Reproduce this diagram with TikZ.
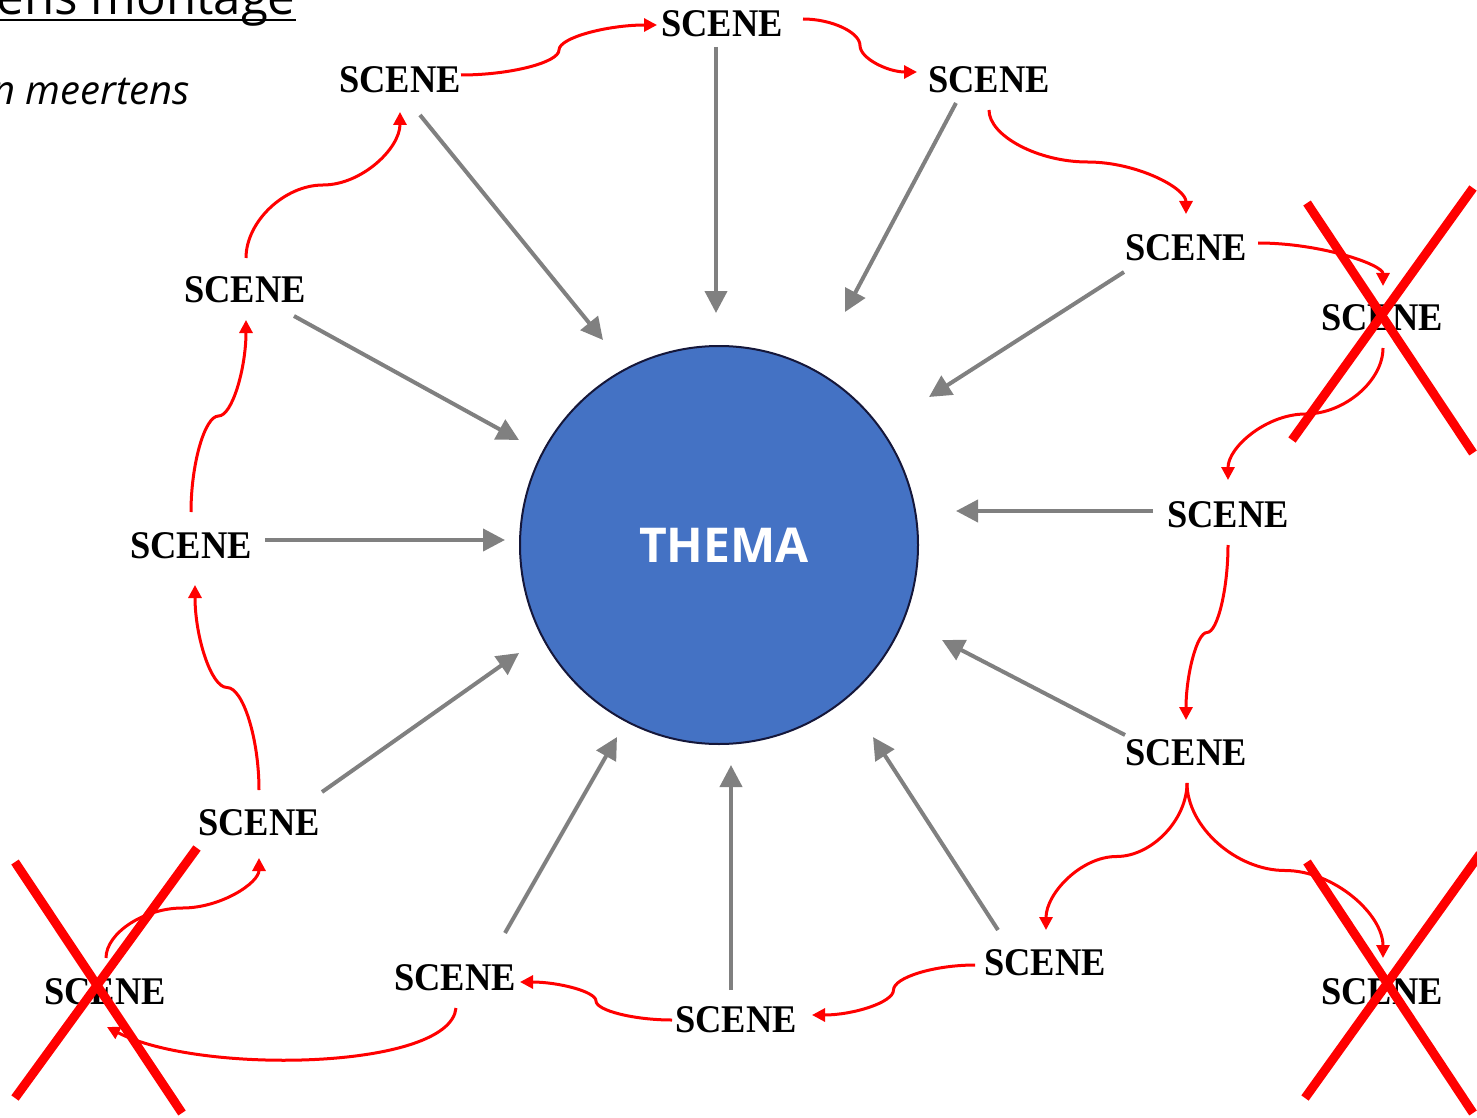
\documentclass[tikz,border=0pt]{standalone}
\usepackage{fontspec}
\setmainfont{Liberation Serif}
\newfontfamily\osans{Open Sans}
\usetikzlibrary{arrows.meta,calc}
\definecolor{themablue}{HTML}{4472C4}
\definecolor{arrgray}{HTML}{808080}
\definecolor{xred}{HTML}{FF0000}
\definecolor{rimblue}{HTML}{15173A}
\newcommand\scn{\scalebox{0.93}[1]{SCENE}}
\tikzset{
  scene/.style={inner sep=0pt, font=\fontsize{19.6}{20}\selectfont\bfseries},
  grayarr/.style={draw=arrgray, line width=2pt, -{Triangle[length=11pt,width=11pt]}},
  redarr/.style={draw=xred, line width=1.5pt, -{Triangle[length=6.5pt,width=6.5pt]}},
  crossline/.style={draw=xred, line width=4.5pt},
}
% S-curve: horizontal start, vertical middle, horizontal end
\newcommand\hhS[2]{\draw[redarr] let \p1=(#1), \p2=(#2) in (\p1)
  .. controls ({0.75*\x1+0.25*\x2},\y1) and ({0.5*\x1+0.5*\x2},{0.75*\y1+0.25*\y2})
  .. ({0.5*\x1+0.5*\x2},{0.5*\y1+0.5*\y2})
  .. controls ({0.5*\x1+0.5*\x2},{0.25*\y1+0.75*\y2}) and ({0.25*\x1+0.75*\x2},\y2)
  .. (\p2);}
% S-curve: vertical start, horizontal middle, vertical end
\newcommand\vvS[2]{\draw[redarr] let \p1=(#1), \p2=(#2) in (\p1)
  .. controls (\x1,{0.75*\y1+0.25*\y2}) and ({0.75*\x1+0.25*\x2},{0.5*\y1+0.5*\y2})
  .. ({0.5*\x1+0.5*\x2},{0.5*\y1+0.5*\y2})
  .. controls ({0.25*\x1+0.75*\x2},{0.5*\y1+0.5*\y2}) and (\x2,{0.25*\y1+0.75*\y2})
  .. (\p2);}
% single bend: horizontal start, vertical end
\newcommand\hvC[2]{\draw[redarr] let \p1=(#1), \p2=(#2) in (\p1)
  .. controls ({0.5*\x1+0.5*\x2},\y1) and (\x2,{0.5*\y1+0.5*\y2}) .. (\p2);}
\begin{document}
\begin{tikzpicture}[x=0.5pt,y=-0.5pt]
\useasboundingbox (0,0) rectangle (1477,1118);

% titles (cut off at the page edge, as in the original)
\node[anchor=base east, inner sep=0pt, font=\osans\fontsize{24.6}{27}\selectfont] (title) at (296,15) {ens montage};
\draw[line width=1.1pt] ([yshift=-2.5pt]title.base west) -- ([yshift=-2.5pt]title.base east);
\node[anchor=base east, inner sep=0pt, font=\osans\itshape\fontsize{20}{23}\selectfont] (author) at (190,105) {n meertens};

% central theme
\node[circle, fill=themablue, draw=rimblue, line width=1pt, minimum size=199pt, inner sep=0pt,
      text=white, font=\osans\bfseries\fontsize{24}{26}\selectfont] (thema) at (719,545) {\hspace*{5pt}THEMA};

% scenes
\node[scene] (s1)  at (722,24)   {\scn};
\node[scene] (s2)  at (400,80)   {\scn};
\node[scene] (s3)  at (989,80)   {\scn};
\node[scene] (s4)  at (1186,248) {\scn};
\node[scene] (s5)  at (1382,318) {\scn};
\node[scene] (s6)  at (1228,515) {\scn};
\node[scene] (s7)  at (1186,753) {\scn};
\node[scene] (s8)  at (1045,963) {\scn};
\node[scene] (s9)  at (1382,992) {\scn};
\node[scene] (s10) at (736,1020) {\scn};
\node[scene] (s11) at (455,978)  {\scn};
\node[scene] (s12) at (105,992)  {\scn};
\node[scene] (s13) at (259,823)  {\scn};
\node[scene] (s14) at (191,546)  {\scn};
\node[scene] (s15) at (245,290)  {\scn};

% arrow ends near the theme
\coordinate (g1)  at (603,340);
\coordinate (g2)  at (716,313);
\coordinate (g3)  at (845,312);
\coordinate (g4)  at (929,397);
\coordinate (g5)  at (956,511);
\coordinate (g6)  at (942,640);
\coordinate (g7)  at (873,737);
\coordinate (g8)  at (731,765);
\coordinate (g9)  at (617,737);
\coordinate (g10) at (519,653);
\coordinate (g11) at (505,540);
\coordinate (g12) at (519,440);

% gray arrows: scene -> theme
\draw[grayarr] ($(s2)+(20,35)$)   -- (g1);
\draw[grayarr] ($(s1)+(-6,23)$)   -- (g2);
\draw[grayarr] ($(s3)+(-33,23)$)  -- (g3);
\draw[grayarr] ($(s4)+(-62,24)$)  -- (g4);
\draw[grayarr] ($(s6)+(-75,-4)$)  -- (g5);
\draw[grayarr] ($(s7)+(-61,-18)$) -- (g6);
\draw[grayarr] ($(s8)+(-47,-33)$) -- (g7);
\draw[grayarr] ($(s10)+(-5,-30)$) -- (g8);
\draw[grayarr] ($(s11)+(50,-45)$) -- (g9);
\draw[grayarr] ($(s13)+(63,-31)$) -- (g10);
\draw[grayarr] ($(s14)+(74,-6)$)  -- (g11);
\draw[grayarr] ($(s15)+(49,26)$)  -- (g12);

% red sequence arrows
\hhS{$(s2)+(61,-5)$}{$(s1)+(-65,1)$}
\hhS{$(s1)+(81,-5)$}{$(s3)+(-72,-8)$}
\vvS{$(s3)+(0,30)$}{$(s4)+(0,-34)$}
\hvC{$(s4)+(72,-5)$}{$(s5)+(1,-32)$}
\vvS{$(s5)+(1,30)$}{$(s6)+(0,-35)$}
\vvS{$(s6)+(0,30)$}{$(s7)+(0,-33)$}
\vvS{$(s7)+(1,30)$}{$(s8)+(1,-33)$}
\vvS{$(s7)+(1,30)$}{$(s9)+(1,-34)$}
\hhS{$(s8)+(-70,2)$}{$(s10)+(76,-5)$}
\hhS{$(s10)+(-64,0)$}{$(s11)+(65,4)$}
\draw[redarr] ($(s11)+(1,30)$) .. controls ($(s11)+(-5,92)$) and ($(s12)+(95,83)$) .. ($(s12)+(2,35)$);
\vvS{$(s12)+(1,-34)$}{$(s13)+(0,35)$}
\vvS{$(s13)+(0,-33)$}{$(s14)+(4,39)$}
\vvS{$(s14)+(0,-34)$}{$(s15)+(1,30)$}
\vvS{$(s15)+(1,-32)$}{$(s2)+(0,32)$}

% crossed-out scenes
\draw[crossline] (1307,203) -- (1473,453);
\draw[crossline] (1473,188) -- (1292,440);
\draw[crossline] (15,862) -- (182,1113);
\draw[crossline] (197,848) -- (15,1098);
\draw[crossline] (1307,862) -- (1473,1113);
\draw[crossline] (1480,854) -- (1305,1098);
\end{tikzpicture}
\end{document}
